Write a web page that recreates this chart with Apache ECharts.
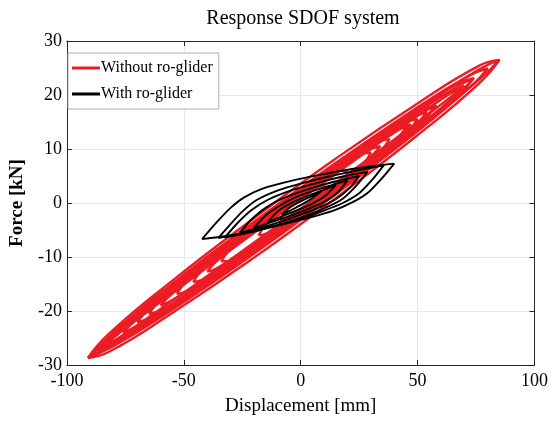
<!DOCTYPE html>
<html>
<head>
<meta charset="utf-8">
<script src="https://cdn.jsdelivr.net/npm/echarts@6/dist/echarts.min.js"></script>
<style>
  html, body { margin: 0; padding: 0; background: #fff; }
  #main { width: 551px; height: 427px; }
</style>
</head>
<body>
<div id="main"></div>
<script type="text/javascript">
// ticks
var xTicks = [-100, -50, 0, 50, 100];
var yTicks = [-30, -20, -10, 0, 10, 20, 30];

// red loops (without ro-glider), [displacement mm, force kN]
var red1  = [[-91,-28.7],[-82.2,-24.3],[-55.8,-14.7],[-20.6,-3.0],[14.6,8.1],[49.8,18.4],[76.2,25.4],[85,26.5],[76.2,22.1],[49.8,12.5],[14.6,0.8],[-20.6,-10.3],[-55.8,-20.6],[-82.2,-27.6],[-91,-28.7]];
var red2  = [[-91,-28.7],[-82.2,-25.0],[-55.8,-15.9],[-20.6,-4.5],[14.6,6.6],[49.8,17.2],[76.2,24.7],[85,26.5],[76.2,22.8],[49.8,13.7],[14.6,2.3],[-20.6,-8.8],[-55.8,-19.4],[-82.2,-26.9],[-91,-28.7]];
var red3  = [[-89,-28.1],[-80.6,-24.2],[-55.2,-15.2],[-21.4,-4.1],[12.4,6.5],[46.2,16.6],[71.6,23.5],[80,24.9],[71.6,21.1],[46.2,12.1],[12.4,1.0],[-21.4,-9.6],[-55.2,-19.7],[-80.6,-26.6],[-89,-28.1]];
var red4  = [[-87,-27.4],[-79,-23.6],[-54.8,-14.9],[-22.6,-4.3],[9.6,5.8],[41.8,15.3],[66,21.8],[74,23.1],[66,19.2],[41.8,10.5],[9.6,-0.1],[-22.6,-10.2],[-54.8,-19.7],[-79,-26.2],[-87,-27.4]];
var red5  = [[-87,-27.4],[-79,-24.1],[-54.8,-15.9],[-22.6,-5.5],[9.6,4.6],[41.8,14.4],[66,21.3],[74,23.1],[66,19.7],[41.8,11.5],[9.6,1.1],[-22.6,-9.0],[-54.8,-18.8],[-79,-25.7],[-87,-27.4]];
var red6  = [[-82,-25.9],[-74.5,-22.4],[-52,-14.5],[-22,-4.6],[8,4.8],[38,13.8],[60.5,19.9],[68,21.2],[60.5,17.7],[38,9.8],[8,-0.1],[-22,-9.5],[-52,-18.5],[-74.5,-24.6],[-82,-25.9]];
var red7  = [[-76,-24.0],[-69.3,-20.7],[-49.2,-13.4],[-22.4,-4.5],[4.4,3.9],[31.2,11.8],[51.3,17.1],[58,18.0],[51.3,14.8],[31.2,7.5],[4.4,-1.4],[-22.4,-9.8],[-49.2,-17.8],[-69.3,-23.1],[-76,-24.0]];
var red8  = [[-76,-24.0],[-69.3,-21.2],[-49.2,-14.3],[-22.4,-5.6],[4.4,2.8],[31.2,10.9],[51.3,16.6],[58,18.0],[51.3,15.2],[31.2,8.4],[4.4,-0.4],[-22.4,-8.8],[-49.2,-16.9],[-69.3,-22.6],[-76,-24.0]];
var red9  = [[-70,-22.1],[-63.8,-19.2],[-45.2,-12.6],[-20.4,-4.4],[4.4,3.4],[29.2,10.8],[47.8,15.8],[54,16.8],[47.8,13.9],[29.2,7.2],[4.4,-0.9],[-20.4,-8.7],[-45.2,-16.1],[-63.8,-21.1],[-70,-22.1]];
var red10 = [[-65,-20.5],[-59.3,-17.7],[-42,-11.3],[-19,-3.7],[4,3.6],[27,10.3],[44.3,14.8],[50,15.5],[44.3,12.6],[27,6.3],[4,-1.4],[-19,-8.6],[-42,-15.3],[-59.3,-19.8],[-65,-20.5]];
var red11 = [[-60,-19.0],[-54.7,-16.7],[-38.6,-11.2],[-17.2,-4.2],[4.2,2.5],[25.6,9.0],[41.7,13.5],[47,14.6],[41.7,12.3],[25.6,6.8],[4.2,-0.2],[-17.2,-6.9],[-38.6,-13.4],[-54.7,-17.9],[-60,-19.0]];
var red12 = [[-53,-16.8],[-48.1,-14.2],[-33.4,-8.8],[-13.8,-2.2],[5.8,3.9],[25.4,9.7],[40.1,13.4],[45,14.0],[40.1,11.4],[25.4,6.0],[5.8,-0.6],[-13.8,-6.7],[-33.4,-12.5],[-48.1,-16.2],[-53,-16.8]];
var red13 = [[-46,-14.6],[-41.8,-12.3],[-29.2,-7.6],[-12.4,-1.9],[4.4,3.4],[21.2,8.3],[33.8,11.4],[38,11.8],[33.8,9.5],[21.2,4.7],[4.4,-0.9],[-12.4,-6.2],[-29.2,-11.1],[-41.8,-14.2],[-46,-14.6]];
var red14 = [[-40,-12.7],[-36.3,-10.9],[-25.2,-6.9],[-10.4,-2.1],[4.4,2.6],[19.2,7.0],[30.3,10.0],[34,10.5],[30.3,8.7],[19.2,4.7],[4.4,-0.2],[-10.4,-4.8],[-25.2,-9.2],[-36.3,-12.2],[-40,-12.7]];
var red15 = [[-34,-10.8],[-30.8,-8.9],[-21.2,-5.1],[-8.4,-0.7],[4.4,3.4],[17.2,7.0],[26.8,9.2],[30,9.3],[26.8,7.3],[17.2,3.5],[4.4,-0.9],[-8.4,-5.0],[-21.2,-8.6],[-30.8,-10.8],[-34,-10.8]];
var red16 = [[-85,-26.8],[-77.3,-24.0],[-54,-16.4],[-23,-6.5],[8,3.2],[39,12.8],[62.3,19.8],[70,21.8],[62.3,19.0],[39,11.4],[8,1.5],[-23,-8.3],[-54,-17.8],[-77.3,-24.8],[-85,-26.8]];
var red17 = [[-18,-6.0],[-15,-4.0],[-8,-1.3],[1,1.75],[10,4.4],[17,6.0],[20,5.5],[17,4.3],[10,1.6],[1,-1.45],[-8,-4.1],[-15,-5.7],[-18,-6.0]];
var red18 = [[-9,-3.2],[-6,-1.3],[1,1.15],[8,3.1],[11,3.0],[8,1.6],[1,-0.85],[-6,-2.75],[-9,-3.2]];

// black loops (with ro-glider)
var black1 = [[-42.2,-6.7],[-36,-3.6],[-30,-0.9],[-24,1.1],[-16,2.7],[-5,4.0],[8,5.2],[22,6.3],[34,7.0],[40,7.3],
              [35,4.7],[29,2.0],[22,0.1],[14,-1.4],[3,-2.8],[-8,-4.0],[-20,-5.2],[-32,-6.1],[-42.2,-6.7]];
var black2 = [[-35.3,-6.5],[-30,-3.9],[-25,-1.6],[-19,0.5],[-10,2.3],[0,3.6],[12,4.9],[25,6.1],[35.6,7.0],
              [31,4.5],[25,1.8],[18,0.0],[10,-1.4],[0,-2.9],[-12,-4.3],[-24,-5.5],[-35.3,-6.5]];
var black3 = [[-32.5,-6.4],[-27,-3.7],[-21,-1.3],[-14,0.6],[-5,2.2],[6,3.6],[18,4.9],[28.6,5.8],
              [24,3.3],[18,0.8],[10,-1.0],[0,-2.7],[-10,-4.1],[-21,-5.4],[-32.5,-6.4]];
var black4 = [[-26,-5.5],[-21,-3.0],[-15,-0.9],[-8,0.8],[2,2.4],[13,3.8],[25,5.0],
              [21,2.8],[15,0.7],[7,-1.0],[-3,-2.6],[-14,-4.2],[-26,-5.5]];
var black5 = [[-20,-4.6],[-15,-2.3],[-9,-0.5],[-2,1.1],[8,2.6],[20,4.2],
              [16,2.0],[10,0.2],[2,-1.3],[-8,-2.9],[-20,-4.6]];
var black6 = [[-14,-3.5],[-10,-1.6],[-5,-0.2],[3,1.3],[15,3.3],[11,1.5],[5,-0.1],[-3,-1.6],[-14,-3.5]];
var black7 = [[-8,-2.2],[-5,-0.9],[0,0.3],[9,2.2],[5,0.9],[0,-0.4],[-8,-2.2]];

var redLoops = [red1, red2, red3, red4, red5, red6, red7, red8, red9, red10, red11, red12, red13, red14, red15, red16, red17, red18];
var blackLoops = [black1, black2, black3, black4, black5, black6, black7];

var FONT = '"Liberation Serif", "DejaVu Serif", serif';
var AXIS_COLOR = '#262626';

var myChart = echarts.init(document.getElementById('main'));

var series = [];
redLoops.forEach(function (loop) {
    series.push({
        name: 'Without ro-glider',
        type: 'line',
        data: loop,
        smooth: true,
        showSymbol: false,
        lineStyle: { color: '#ec1c24', width: 2.4 },
        itemStyle: { color: '#ec1c24' },
        z: 2
    });
});
blackLoops.forEach(function (loop) {
    series.push({
        name: 'With ro-glider',
        type: 'line',
        data: loop,
        smooth: 0.2,
        showSymbol: false,
        lineStyle: { color: '#000000', width: 1.9 },
        itemStyle: { color: '#000000' },
        z: 3
    });
});

var option = {
    animation: false,
    backgroundColor: '#ffffff',
    title: {
        text: 'Response SDOF system',
        left: 298,
        top: 4,
        textAlign: 'center',
        textStyle: { fontFamily: FONT, fontSize: 20, fontWeight: 'normal', color: '#000' }
    },
    legend: {
        data: ['Without ro-glider', 'With ro-glider'],
        orient: 'vertical',
        left: 68,
        top: 53,
        padding: [7, 6, 7, 4],
        itemGap: 10,
        itemWidth: 28,
        itemHeight: 3,
        icon: 'rect',
        backgroundColor: '#ffffff',
        borderColor: '#b0b0b0',
        borderWidth: 1,
        textStyle: { fontFamily: FONT, fontSize: 16, color: '#000', padding: [0, 0, 0, -4] }
    },
    grid: { left: 58, right: 13, top: 41, bottom: 62 },
    xAxis: [{
        type: 'value',
        min: xTicks[0],
        max: xTicks[xTicks.length - 1],
        interval: 50,
        name: 'Displacement [mm]',
        nameLocation: 'middle',
        nameGap: 32,
        nameTextStyle: { fontFamily: FONT, fontSize: 19, color: '#000' },
        axisLine: { show: true, onZero: false, lineStyle: { color: AXIS_COLOR } },
        axisTick: { show: true, inside: true, length: 5, lineStyle: { color: AXIS_COLOR } },
        axisLabel: { fontFamily: FONT, fontSize: 18, color: '#000', margin: 7 },
        splitLine: { show: true, lineStyle: { color: '#e8e8e8' } }
    }, {
        type: 'value',
        position: 'top',
        min: xTicks[0],
        max: xTicks[xTicks.length - 1],
        interval: 50,
        axisLine: { show: true, onZero: false, lineStyle: { color: AXIS_COLOR } },
        axisTick: { show: true, inside: true, length: 5, lineStyle: { color: AXIS_COLOR } },
        axisLabel: { show: false },
        splitLine: { show: false }
    }],
    yAxis: [{
        type: 'value',
        min: yTicks[0],
        max: yTicks[yTicks.length - 1],
        interval: 10,
        name: 'Force [kN]',
        nameLocation: 'middle',
        nameGap: 32,
        nameTextStyle: { fontFamily: FONT, fontSize: 19, fontWeight: 'bold', color: '#000' },
        axisLine: { show: true, onZero: false, lineStyle: { color: AXIS_COLOR } },
        axisTick: { show: true, inside: true, length: 5, lineStyle: { color: AXIS_COLOR } },
        axisLabel: { fontFamily: FONT, fontSize: 18, color: '#000', margin: 5 },
        splitLine: { show: true, lineStyle: { color: '#e8e8e8' } }
    }, {
        type: 'value',
        position: 'right',
        min: yTicks[0],
        max: yTicks[yTicks.length - 1],
        interval: 10,
        axisLine: { show: true, onZero: false, lineStyle: { color: AXIS_COLOR } },
        axisTick: { show: true, inside: true, length: 5, lineStyle: { color: AXIS_COLOR } },
        axisLabel: { show: false },
        splitLine: { show: false }
    }],
    series: series
};

myChart.setOption(option);
</script>
</body>
</html>
